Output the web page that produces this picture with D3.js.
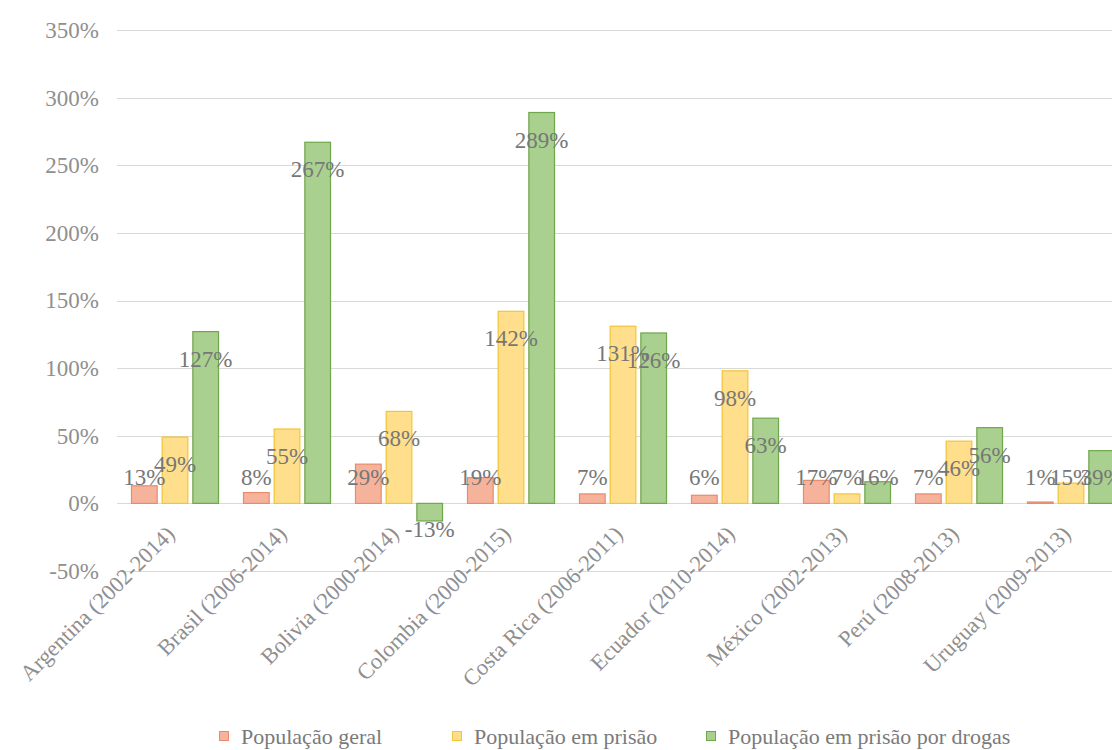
<!DOCTYPE html>
<html>
<head>
<meta charset="utf-8">
<script src="https://cdn.jsdelivr.net/npm/d3@7"></script>
<style>
  body { margin: 0; background: #fff; }
  svg text { font-family: 'Liberation Serif', serif; }
</style>
</head>
<body>
<div id="chart"></div>
<script>
// categories and series
let categories = ['Argentina (2002-2014)', 'Brasil (2006-2014)', 'Bolivia (2000-2014)',
  'Colombia (2000-2015)', 'Costa Rica (2006-2011)', 'Ecuador (2010-2014)',
  'México (2002-2013)', 'Perú (2008-2013)', 'Uruguay (2009-2013)']
let seriesNames = ['População geral', 'População em prisão', 'População em prisão por drogas']
let geral = [13, 8, 29, 19, 7, 6, 17, 7, 1]
let prisao = [49, 55, 68, 142, 131, 98, 7, 46, 15]
let drogas = [127, 267, -13, 289, 126, 63, 16, 56, 39]
let yTicks = [-50, 0, 50, 100, 150, 200, 250, 300, 350]

let fills = ['#f6b39b', '#ffdf8c', '#a9d08e']
let strokes = ['#e98b6c', '#f3c436', '#6fa84b']

let width = 1112, height = 750
let svg = d3.select('#chart').append('svg')
  .attr('width', width)
  .attr('height', height)

let seriesValues = [geral, prisao, drogas]
let rows = categories.map((c, i) => ({
  cat: c,
  vals: seriesValues.map((s, k) => ({ key: seriesNames[k], k: k, v: s[i] }))
}))

let y = d3.scaleLinear().domain([-50, 350]).range([571, 30])

let x0 = d3.scaleBand()
  .domain(categories)
  .range([119, 1127])
  .paddingInner(0.214)
  .paddingOuter(0.107)

let x1 = d3.scaleBand()
  .domain(seriesNames)
  .range([0, x0.bandwidth()])
  .paddingInner(0.13)

// y axis labels
let yAxis = d3.axisLeft(y).tickValues(yTicks).tickSize(0).tickPadding(0)
  .tickFormat(d => d + '%')
let gy = svg.append('g').attr('transform', 'translate(99,0)').call(yAxis)
gy.attr('font-family', null).attr('font-size', null)
gy.select('.domain').remove()
gy.selectAll('text')
  .attr('fill', '#8f8f8f')
  .attr('font-size', 23)

// gridlines
svg.append('g').selectAll('line')
  .data(yTicks)
  .join('line')
  .attr('x1', 117).attr('x2', width)
  .attr('y1', d => Math.round(y(d)) + 0.5)
  .attr('y2', d => Math.round(y(d)) + 0.5)
  .attr('stroke', '#d9d9d9')
  .attr('stroke-width', 1)

// bars
let groups = svg.append('g').selectAll('g')
  .data(rows)
  .join('g')
  .attr('transform', d => 'translate(' + x0(d.cat) + ',0)')

groups.selectAll('rect')
  .data(d => d.vals)
  .join('rect')
  .attr('x', d => x1(d.key) + 0.5)
  .attr('y', d => Math.min(y(d.v), y(0)))
  .attr('width', x1.bandwidth() - 1)
  .attr('height', d => Math.abs(y(d.v) - y(0)))
  .attr('fill', d => fills[d.k])
  .attr('stroke', d => strokes[d.k])
  .attr('stroke-width', 1.2)

// data labels (inside end, kept clear of the axis)
groups.selectAll('text.lbl')
  .data(d => d.vals)
  .join('text')
  .attr('class', 'lbl')
  .attr('x', d => x1(d.key) + x1.bandwidth() / 2)
  .attr('y', d => d.v >= 0 ? Math.min(y(d.v) + 27, y(0) - 26) : Math.max(y(d.v) - 27, y(0) + 26))
  .attr('dy', '0.35em')
  .attr('text-anchor', 'middle')
  .attr('fill', '#777777')
  .attr('font-size', 23)
  .text(d => d.v + '%')

// category labels, rotated
let xAxis = d3.axisBottom(x0).tickSize(0).tickPadding(0)
let gx = svg.append('g').attr('transform', 'translate(0,' + y(0) + ')').call(xAxis)
gx.attr('font-family', null).attr('font-size', null)
gx.select('.domain').remove()
gx.selectAll('text')
  .attr('fill', '#8f8f8f')
  .attr('font-size', 22.5)
  .attr('text-anchor', 'end')
  .attr('dy', '0')
  .attr('y', 0)
  .attr('transform', 'translate(1,32) rotate(-45)')

// legend
let legendX = [219, 452, 706]
let legend = svg.append('g')
legend.selectAll('rect')
  .data(seriesNames)
  .join('rect')
  .attr('x', (d, i) => legendX[i] + 0.5)
  .attr('y', 731.5)
  .attr('width', 9)
  .attr('height', 9)
  .attr('fill', (d, i) => fills[i])
  .attr('stroke', (d, i) => strokes[i])
legend.selectAll('text')
  .data(seriesNames)
  .join('text')
  .attr('x', (d, i) => legendX[i] + 22)
  .attr('y', 736)
  .attr('dy', '0.35em')
  .attr('fill', '#7a7a7a')
  .attr('font-size', 22)
  .text(d => d)
</script>
</body>
</html>
